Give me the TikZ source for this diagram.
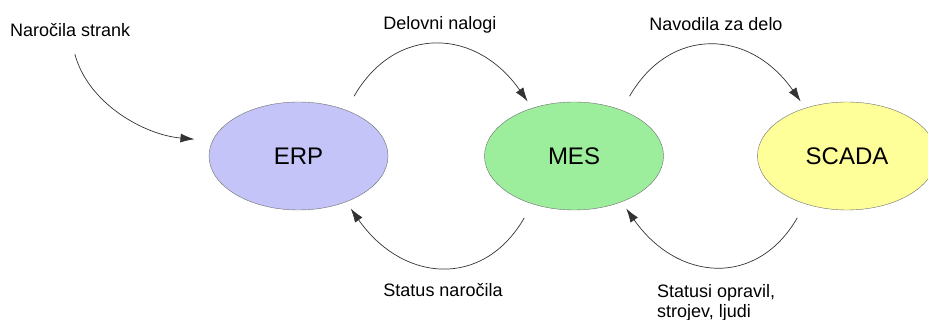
\documentclass[tikz,border=0pt]{standalone}
\usepackage{fontspec}
\setmainfont{Liberation Sans}
\usepackage{xcolor}
\usetikzlibrary{shapes.geometric,arrows.meta}
\definecolor{erpfill}{RGB}{196,196,248}
\definecolor{mesfill}{RGB}{156,238,156}
\definecolor{scadafill}{RGB}{255,255,153}
\definecolor{rim}{RGB}{110,110,110}

\begin{document}
\begin{tikzpicture}[x=1pt, y=1pt,
    sys/.style={draw=rim, ellipse, minimum width=179pt, minimum height=108pt, inner sep=0pt, font=\fontsize{24}{26}\selectfont},
    lbl/.style={font=\fontsize{18}{20}\selectfont, inner sep=0pt},
    flow/.style={->, >={Latex[length=14pt,width=9pt]}, draw=black!80, line width=0.7pt}]
                \useasboundingbox (0,0) rectangle (928,320);
                \node[sys, fill=erpfill] (erp) at (298.5,164) {ERP};
                \node[sys, fill=mesfill] (mes) at (574,164) {MES};
                \node[sys, fill=scadafill] (scada) at (847,164) {SCADA};
                \node[lbl, anchor=west] (nar) at (10,290) {Naročila strank};
                \node[lbl] (del) at (440,295) {Delovni nalogi};
                \node[lbl] (nav) at (716,296) {Navodila za delo};
                \node[lbl] (sta) at (443,30) {Status naročila};
                \node[lbl, anchor=north west, align=left] (sto) at (657,36) {Statusi opravil,\\strojev, ljudi};
                \draw[flow, shorten <=18pt, shorten >=18pt] (nar.south) to[out=-75, in=175] (erp.170);
                \draw[flow, shorten <=16pt, shorten >=8pt] (erp.44) to[out=60, in=125, looseness=1.35] (mes.131);
                \draw[flow, shorten <=16pt, shorten >=8pt] (mes.44) to[out=60, in=125, looseness=1.35] (scada.131);
                \draw[flow, shorten <=16pt, shorten >=8pt] (mes.-131) to[out=-120, in=-55, looseness=1.35] (erp.-44);
                \draw[flow, shorten <=16pt, shorten >=8pt] (scada.-131) to[out=-120, in=-55, looseness=1.35] (mes.-44);
            \end{tikzpicture}
\end{document}
